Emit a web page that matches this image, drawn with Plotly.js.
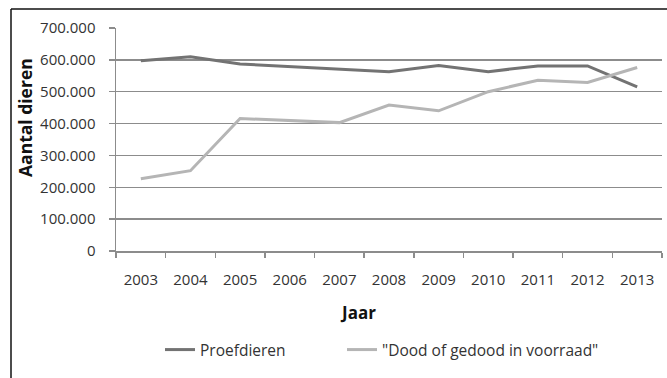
<!DOCTYPE html>
<html>
<head>
<meta charset="utf-8">
<script src="https://cdn.plot.ly/plotly-3.0.1.min.js"></script>
<style>html,body{margin:0;padding:0;background:#fff;}#chart{width:667px;height:378px;}</style>
</head>
<body>
<div id="chart"></div>
<script>
var years = ['2003','2004','2005','2006','2007','2008','2009','2010','2011','2012','2013'];
var proefdieren = [597000, 610000, 587000, 579000, 573000, 563000, 582000, 563000, 581000, 581000, 515000];
var doodGedood = [227000, 252000, 416000, 409000, 403000, 458000, 440000, 500000, 536000, 529000, 576000];
var yTicks = [0, 100000, 200000, 300000, 400000, 500000, 600000, 700000];
var yTickText = ['0', '100.000', '200.000', '300.000', '400.000', '500.000', '600.000', '700.000'];

var L = 116, R = 662, T = 28, B = 251, W = 667, H = 378;
function px(x){ return (x - L) / (R - L); }
function py(y){ return (B - y) / (B - T); }

var fontFam = '"Open Sans", "DejaVu Sans", sans-serif';
var data = [
  {x: years, y: proefdieren, type: 'scatter', mode: 'lines', name: 'Proefdieren', legend: 'legend',
   line: {color: '#737373', width: 3}},
  {x: years, y: doodGedood, type: 'scatter', mode: 'lines', name: '"Dood of gedood in voorraad"', legend: 'legend2',
   line: {color: '#b5b5b5', width: 3}}
];
var legFont = {family: fontFam, size: 15.5, color: '#333'};
var layout = {
  width: W, height: H,
  margin: {l: L, r: W - R, t: T, b: H - B, pad: 0},
  paper_bgcolor: '#fff', plot_bgcolor: '#fff',
  font: {family: fontFam, size: 15, color: '#333'},
  showlegend: true,
  legend: {orientation: 'h', x: px(160), xanchor: 'left', y: py(350), yanchor: 'middle',
           font: legFont, bgcolor: 'rgba(0,0,0,0)'},
  legend2: {orientation: 'h', x: px(342), xanchor: 'left', y: py(350), yanchor: 'middle',
           font: legFont, bgcolor: 'rgba(0,0,0,0)'},
  xaxis: {type: 'category', range: [-0.5, 10.5], tickson: 'boundaries', ticks: 'outside', ticklen: 5, tickwidth: 1.5,
          tickcolor: '#8c8c8c', showline: true, linecolor: '#8c8c8c', linewidth: 1.5,
          showgrid: false, zeroline: false, ticklabelstandoff: 14, fixedrange: true,
          tickfont: {family: fontFam, size: 15, color: '#333'}},
  yaxis: {range: [0, 700000], tickvals: yTicks, ticktext: yTickText, ticks: 'outside', ticklen: 6,
          tickwidth: 1.5, tickcolor: '#8c8c8c', showline: true, linecolor: '#8c8c8c', linewidth: 1.5,
          showgrid: true, gridcolor: '#8c8c8c', gridwidth: 1.5, zeroline: false,
          ticklabelstandoff: 10, fixedrange: true,
          tickfont: {family: fontFam, size: 15, color: '#333'}},
  annotations: [
    {text: '<b>Aantal dieren</b>', xref: 'paper', yref: 'paper', x: px(25), y: py(118),
     xanchor: 'center', yanchor: 'middle',
     textangle: -90, showarrow: false, font: {family: fontFam, size: 17.5, color: '#111'}},
    {text: '<b>Jaar</b>', xref: 'paper', yref: 'paper', x: px(358), y: py(312),
     xanchor: 'center', yanchor: 'middle',
     showarrow: false, font: {family: fontFam, size: 17, color: '#111'}}
  ],
  shapes: [
    {type: 'line', xref: 'paper', yref: 'paper', x0: px(11), x1: px(667), y0: py(9), y1: py(9),
     line: {color: '#111', width: 1.5}},
    {type: 'line', xref: 'paper', yref: 'paper', x0: px(11), x1: px(11), y0: py(9), y1: py(378),
     line: {color: '#111', width: 1.5}}
  ]
};
Plotly.newPlot('chart', data, layout, {displayModeBar: false, staticPlot: true});
</script>
</body>
</html>
